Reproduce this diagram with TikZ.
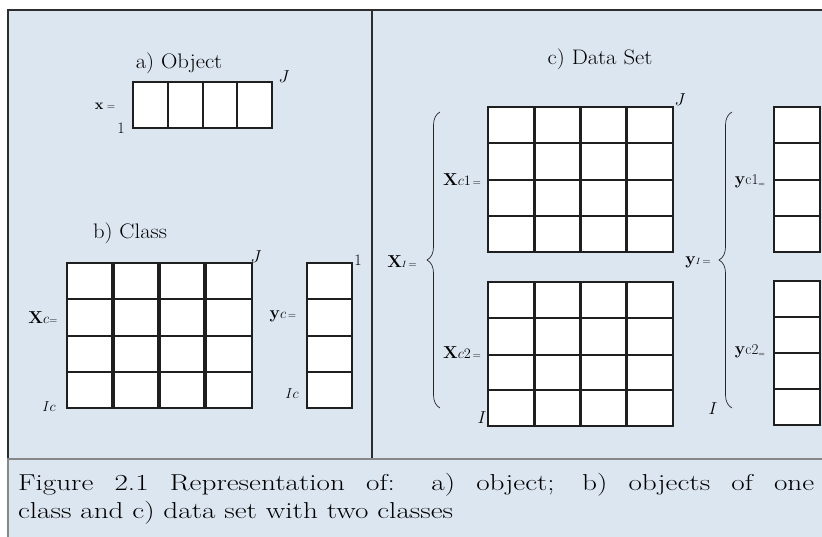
\documentclass[tikz,border=0pt]{standalone}
\usetikzlibrary{decorations.pathreplacing}
\definecolor{bgblue}{RGB}{220,230,241}
\definecolor{framec}{RGB}{45,45,45}
\definecolor{sepc}{RGB}{135,135,135}
\tikzset{
  cell/.style={draw=black!88, fill=white, line width=1.1pt},
  lbl/.style={inner sep=0pt, outer sep=0pt},
  ttl/.style={lbl, font=\fontsize{21}{24}\selectfont},
  idx/.style={lbl, font=\fontsize{16}{18}\selectfont},
  brc/.style={decorate, decoration={brace, amplitude=13pt, aspect=0.5}, line width=0.7pt, draw=black!85},
  captxt/.style={lbl, anchor=base west, font=\fontsize{23}{28}\selectfont}
}
\newcommand\bx[1]{{\fontsize{17}{18}\selectfont$\mathbf{#1}$}}
\newcommand\sm[1]{{\fontsize{15}{16}\selectfont #1}}
\newcommand\eqs{{\fontsize{11}{12}\selectfont =}}
\begin{document}
\begin{tikzpicture}[x=1pt,y=-1pt]
\useasboundingbox (0,0) rectangle (822,537);
% background and frame
\fill[bgblue] (8,10) rectangle (822,537);
\draw[framec, line width=1.2pt] (8,458) -- (8,10) -- (822,10);
\draw[sepc, line width=1.2pt] (8,458) -- (8,537);
\draw[framec, line width=1.2pt] (372,10) -- (372,458);
\draw[sepc, line width=2pt] (8,458.5) -- (822,458.5);

% a) Object
\node[ttl] (ta) at (179,63) {\scalebox{1.08}[1]{a) Object}};
\foreach \a/\b in {133/168,168/203,203/237,237/272}
  \draw[cell] (\a,82) rectangle (\b,128);
\node[lbl] (xa) at (105,106) {{\fontsize{15}{16}\selectfont$\mathbf{x}$} \eqs};
\node[idx] (oa) at (121,128) {1};
\node[idx] (ja) at (284,77) {$J$};

% b) Class
\node[ttl] (tb) at (130,233) {\scalebox{1.08}[1]{b) Class}};
\foreach \a/\b in {67/112,114/158,160/204,206/252}
  \foreach \r/\s in {263/299,299/336,336/372,372/408}
    \draw[cell] (\a,\r) rectangle (\b,\s);
\foreach \r/\s in {263/299,299/336,336/372,372/408}
  \draw[cell] (307,\r) rectangle (352,\s);
\node[lbl] (xb) at (43,318) {\bx{X}\sm{$c$}\eqs};
\node[lbl] (ib) at (49,407) {\sm{$Ic$}};
\node[idx] (jb) at (256,257) {$J$};
\node[lbl] (yb) at (283,316) {\bx{y}\sm{$c$}\,\eqs};
\node[lbl] (iyb) at (292,394) {\sm{$Ic$}};
\node[idx] (ob) at (358,260) {1};

% c) Data Set
\node[ttl] (tc) at (600,59) {\scalebox{1.08}[1]{c) Data Set}};
\foreach \a/\b in {488/534,535/580,581/626,627/673}{
  \foreach \r/\s in {107/143,143/180,180/216,216/252}
    \draw[cell] (\a,\r) rectangle (\b,\s);
  \foreach \r/\s in {282/318,318/355,355/390,390/426}
    \draw[cell] (\a,\r) rectangle (\b,\s);
}
\foreach \r/\s in {107/143,143/180,180/216,216/252}
  \draw[cell] (774,\r) rectangle (820,\s);
\foreach \r/\s in {281/317,317/353,353/389,389/425}
  \draw[cell] (774,\r) rectangle (820,\s);
\node[idx] (jc) at (680,100) {$J$};
\node[lbl] (xc1) at (462,180) {\bx{X}\sm{$c1$}\,\eqs};
\node[lbl] (xc2) at (462,353) {\bx{X}\sm{$c2$}\,\eqs};
\node[lbl] (xi) at (402,262) {\bx{X}{\fontsize{9}{10}\selectfont$I$}\,\eqs};
\node[idx] (ic) at (482,418) {$I$};
\node[lbl] (yc1) at (750,181) {\bx{y}\sm{c1}{\fontsize{8}{9}\selectfont\raisebox{-2pt}{=}}};
\node[lbl] (yc2) at (750,351) {\bx{y}\sm{c2}{\fontsize{8}{9}\selectfont\raisebox{-2pt}{=}}};
\node[lbl] (yi) at (698,262) {\bx{y}{\fontsize{9}{10}\selectfont$I$}\,\eqs};
\node[idx] (iy) at (713,409) {$I$};
\coordinate (b1s) at (440,408); \coordinate (b1e) at (440,112);
\coordinate (b2s) at (732,408); \coordinate (b2e) at (732,112);
\draw[brc] (b1s) -- (b1e);
\draw[brc] (b2s) -- (b2e);

% caption
\node[captxt] (c1) at (18,490) {\scalebox{1.27}[1]{\makebox[627pt][s]{Figure 2.1 Representation of: a) object; b) objects of one}}};
\node[captxt] (c2) at (18,518) {\scalebox{1.27}[1]{class and c) data set with two classes}};
\end{tikzpicture}
\end{document}
